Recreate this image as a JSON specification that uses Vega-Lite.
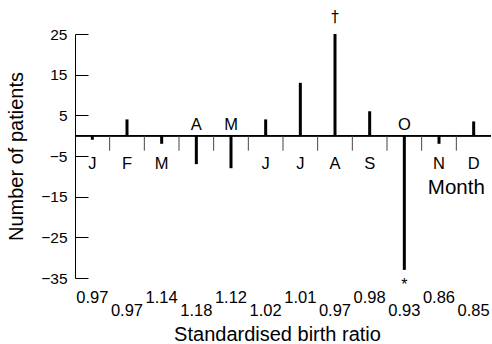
{
  "$schema": "https://vega.github.io/schema/vega-lite/v6.json",
  "width": 416,
  "height": 244,
  "autosize": {"type": "none"},
  "padding": {"left": 75, "top": 34, "right": 1, "bottom": 66},
  "config": {"font": "Liberation Sans", "view": {"stroke": null}, "text": {"color": "black"}},
  "data": {"values": [
    {"month": "Jan", "letter": "J", "patients": -1, "ratio": 0.97},
    {"month": "Feb", "letter": "F", "patients": 4, "ratio": 0.97},
    {"month": "Mar", "letter": "M", "patients": -2, "ratio": 1.14},
    {"month": "Apr", "letter": "A", "patients": -7, "ratio": 1.18},
    {"month": "May", "letter": "M", "patients": -8, "ratio": 1.12},
    {"month": "Jun", "letter": "J", "patients": 4, "ratio": 1.02},
    {"month": "Jul", "letter": "J", "patients": 13, "ratio": 1.01},
    {"month": "Aug", "letter": "A", "patients": 25, "ratio": 0.97, "note": "†"},
    {"month": "Sep", "letter": "S", "patients": 6, "ratio": 0.98},
    {"month": "Oct", "letter": "O", "patients": -33, "ratio": 0.93, "note": "*"},
    {"month": "Nov", "letter": "N", "patients": -2, "ratio": 0.86},
    {"month": "Dec", "letter": "D", "patients": 3.5, "ratio": 0.85}
  ]},
  "encoding": {
    "x": {
      "field": "month", "type": "nominal",
      "scale": {"type": "band", "paddingInner": 0, "paddingOuter": 0,
        "domain": ["Jan","Feb","Mar","Apr","May","Jun","Jul","Aug","Sep","Oct","Nov","Dec"]},
      "axis": {"title": "Standardised birth ratio", "domain": false, "ticks": false, "labels": false,
        "titleFontSize": 20, "titleFontWeight": "normal", "titleColor": "black", "titlePadding": 46, "titleX": 202}
    }
  },
  "layer": [
    {
      "mark": {"type": "rule", "color": "black", "strokeWidth": 3},
      "encoding": {
        "y": {"field": "patients", "type": "quantitative",
          "scale": {"domain": [-35, 25], "nice": false, "zero": false},
          "axis": {"title": "Number of patients", "values": [-35, -25, -15, -5, 5, 15, 25],
            "labelExpr": "datum.value < 0 ? '−' + abs(datum.value) : datum.value",
            "grid": false, "tickSize": -13, "labelPadding": 21, "labelFontSize": 15.5,
            "labelColor": "black", "domainColor": "black", "tickColor": "black",
            "titleFontSize": 20, "titleFontWeight": "normal", "titleColor": "black", "titlePadding": 14}},
        "y2": {"datum": 0}
      }
    },
    {
      "mark": {"type": "rule", "color": "black", "strokeWidth": 1},
      "encoding": {"y": {"datum": 0}, "x": null}
    },
    {
      "transform": [{"filter": "datum.month != 'Jan'"}],
      "mark": {"type": "rule", "color": "#444", "strokeWidth": 1},
      "encoding": {
        "x": {"field": "month", "type": "nominal", "bandPosition": 0},
        "y": {"datum": 0},
        "y2": {"datum": -3.7}
      }
    },
    {
      "transform": [{"filter": "datum.patients >= -5"}],
      "mark": {"type": "text", "color": "black", "fontSize": 16.5, "baseline": "alphabetic", "dy": 33},
      "encoding": {"y": {"datum": 0}, "text": {"field": "letter"}}
    },
    {
      "transform": [{"filter": "datum.patients < -5"}],
      "mark": {"type": "text", "color": "black", "fontSize": 16.5, "baseline": "alphabetic", "dy": -6},
      "encoding": {"y": {"datum": 0}, "text": {"field": "letter"}}
    },
    {
      "transform": [{"filter": "indexof(['Jan','Mar','May','Jul','Sep','Nov'], datum.month) >= 0"}],
      "mark": {"type": "text", "color": "black", "fontSize": 16.5, "baseline": "alphabetic", "dy": 25},
      "encoding": {"y": {"datum": -35}, "text": {"field": "ratio", "type": "quantitative", "format": ".2f"}}
    },
    {
      "transform": [{"filter": "indexof(['Jan','Mar','May','Jul','Sep','Nov'], datum.month) < 0"}],
      "mark": {"type": "text", "color": "black", "fontSize": 16.5, "baseline": "alphabetic", "dy": 38},
      "encoding": {"y": {"datum": -35}, "text": {"field": "ratio", "type": "quantitative", "format": ".2f"}}
    },
    {
      "transform": [{"filter": "datum.note == '†'"}],
      "mark": {"type": "text", "font": "DejaVu Sans", "color": "black", "fill": "black", "fontSize": 15, "baseline": "alphabetic", "dy": -12},
      "encoding": {"y": {"field": "patients", "type": "quantitative"}, "text": {"field": "note"}}
    },
    {
      "transform": [{"filter": "datum.note == '*'"}],
      "mark": {"type": "text", "color": "black", "fill": "black", "fontSize": 16, "baseline": "alphabetic", "dy": 20},
      "encoding": {"y": {"field": "patients", "type": "quantitative"}, "text": {"field": "note"}}
    },
    {
      "data": {"values": [{"label": "Month"}]},
      "mark": {"type": "text", "color": "black", "fontSize": 20.5, "baseline": "alphabetic", "dy": 58},
      "encoding": {
        "x": {"datum": "Dec", "bandPosition": 0},
        "y": {"datum": 0},
        "text": {"field": "label"}
      }
    }
  ]
}
